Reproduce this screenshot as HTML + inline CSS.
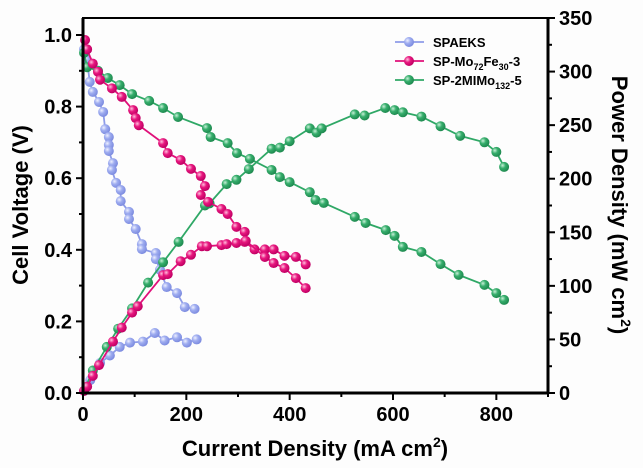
<!DOCTYPE html>
<html><head><meta charset="utf-8">
<style>
html,body{margin:0;padding:0;background:#fff;}
svg{display:block;font-family:"Liberation Sans",Arial,sans-serif;font-weight:bold;}
</style></head>
<body>
<svg id="chart" width="643" height="468" viewBox="0 0 643 468" xmlns="http://www.w3.org/2000/svg">
<defs>
<radialGradient id="gb" cx="35%" cy="35%" r="65%"><stop offset="0" stop-color="#eef0ff"/><stop offset="0.45" stop-color="#9fadf0"/><stop offset="1" stop-color="#7d8ce0"/></radialGradient>
<radialGradient id="gp" cx="35%" cy="35%" r="65%"><stop offset="0" stop-color="#ffc0de"/><stop offset="0.45" stop-color="#e8187f"/><stop offset="1" stop-color="#c00064"/></radialGradient>
<radialGradient id="gg" cx="35%" cy="35%" r="65%"><stop offset="0" stop-color="#c8f0d8"/><stop offset="0.45" stop-color="#36ae6c"/><stop offset="1" stop-color="#1f8a50"/></radialGradient>
</defs>
<rect x="0" y="0" width="643" height="468" fill="#fdfdfd"/>
<g id="marks"></g>
<g id="axes"></g>
</svg>
<script>
// ---- data ----
const blueVI = [2,8,13,19,31,39,43,50,50,50,58,56,64,73,73,89,89,102,114,114,141,141,149,162,182,197,216];
const blueVV = [0.96,0.93,0.869,0.841,0.813,0.785,0.737,0.715,0.693,0.676,0.642,0.623,0.587,0.567,0.536,0.506,0.486,0.458,0.416,0.402,0.391,0.374,0.344,0.296,0.279,0.240,0.235];
const bluePI = [2,14,33,52,71,91,116,139,158,182,201,220];
const bluePP = [2,12,28,35,43,47,48,56,49,52,47,50];
const pinkVI = [4,8,19,29,33,56,75,97,102,108,155,164,189,209,228,236,228,242,268,280,297,313,315,352,369,390,412,431];
const pinkVV = [0.986,0.96,0.92,0.897,0.875,0.851,0.827,0.79,0.768,0.748,0.698,0.67,0.651,0.626,0.606,0.578,0.553,0.534,0.514,0.5,0.464,0.45,0.425,0.38,0.363,0.349,0.321,0.293];
const pinkPI = [2,8,19,31,58,75,95,106,155,164,189,209,230,240,268,278,297,313,332,352,369,390,412,431];
const pinkPP = [2,6,16,26,48,61,75,81,110,111,123,129,137,137,138,139,140,141,134,134,134,128,127,120];
const greenVI = [2,8,29,48,71,95,128,155,184,240,247,280,298,323,365,381,400,439,450,466,526,547,586,603,619,655,692,727,777,800,815];
const greenVV = [0.95,0.91,0.90,0.88,0.86,0.835,0.816,0.796,0.771,0.74,0.715,0.698,0.67,0.654,0.623,0.603,0.589,0.561,0.539,0.531,0.492,0.475,0.455,0.439,0.408,0.394,0.36,0.33,0.302,0.279,0.26];
const greenPI = [2,19,46,68,95,126,155,185,236,245,278,297,321,365,381,400,439,452,462,526,545,585,603,619,655,692,730,777,800,815];
const greenPP = [2,21,43,60,79,103,122,141,175,177,195,199,209,228,229,235,247,243,247,260,259,266,264,262,258,249,240,234,225,211];
const xTicks = [0,200,400,600,800];
const yTicks = [0.0,0.2,0.4,0.6,0.8,1.0];
const y2Ticks = [0,50,100,150,200,250,300,350];

// ---- axes ----
const L=83,R=548,T=18,B=393;
const xS=v=>L+v*(R-L)/900;
const yS=v=>B-v*358;
const y2S=v=>B-v*(B-T)/350;
const NS="http://www.w3.org/2000/svg";
function mk(tag,attrs,parent){const e=document.createElementNS(NS,tag);for(const k in attrs)e.setAttribute(k,attrs[k]);parent.appendChild(e);return e;}
const marks=document.getElementById('marks'), axes=document.getElementById('axes');

function series(xs,ys,ysc,color,grad,name){
  const g=mk('g',{},marks);
  
  
  const pts=xs.map((x,i)=>xS(x).toFixed(1)+','+ysc(ys[i]).toFixed(1)).join(' ');
  const pl=mk('polyline',{points:pts,fill:'none',stroke:color,'stroke-width':1.8},g);
  
  
  xs.forEach((x,i)=>{
    const c=mk('circle',{cx:xS(x),cy:ysc(ys[i]),r:5,fill:'url(#'+grad+')'},g);
    
    
  });
}
series(bluePI,bluePP,y2S,'#8e9ce8','gb','spaeks-power');
series(blueVI,blueVV,yS,'#8e9ce8','gb','spaeks-voltage');
series(greenPI,greenPP,y2S,'#2fa866','gg','sp-2mimo-power');
series(pinkPI,pinkPP,y2S,'#e0107a','gp','sp-mofe-power');
series(greenVI,greenVV,yS,'#2fa866','gg','sp-2mimo-voltage');
series(pinkVI,pinkVV,yS,'#e0107a','gp','sp-mofe-voltage');

// frame
const fr=mk('rect',{x:L,y:T,width:R-L,height:B-T,fill:'none',stroke:'#000','stroke-width':2},axes);


mk('line',{x1:L,y1:T,x2:L,y2:B+1,stroke:'#000','stroke-width':3},axes);
mk('line',{x1:L-1,y1:B,x2:R,y2:B,stroke:'#000','stroke-width':3},axes);
mk('line',{x1:R,y1:T-1,x2:R,y2:B+1,stroke:'#000','stroke-width':3},axes);

function txt(s,x,y,size,anchor,name){const t=mk('text',{x:x,y:y,'font-size':size,'text-anchor':anchor},axes);t.textContent=s;return t;}
// x ticks
for(let v=0;v<=900;v+=100){const major=v%200===0;mk('line',{x1:xS(v),y1:B,x2:xS(v),y2:B+(major?7:4),stroke:'#000','stroke-width':2},axes);}
xTicks.forEach(v=>txt(String(v),xS(v),421,20,'middle','x-tick-label'));
// left ticks
for(let i=0;i<=10;i++){const v=i/10;const major=i%2===0;mk('line',{x1:L,y1:yS(v),x2:L-(major?7:4),y2:yS(v),stroke:'#000','stroke-width':2},axes);}
yTicks.forEach(v=>txt(v.toFixed(1),72,yS(v)+7,20,'end','y-tick-label'));
// right ticks
for(let v=0;v<=350;v+=25){const major=v%50===0;mk('line',{x1:R,y1:y2S(v),x2:R+(major?7:4),y2:y2S(v),stroke:'#000','stroke-width':2},axes);}
y2Ticks.forEach(v=>txt(String(v),559,y2S(v)+7,20,'start','y2-tick-label'));

// axis titles
const xt=txt('',315,456,22,'middle','x-axis-title');
xt.innerHTML='Current Density (mA cm<tspan dy="-9" font-size="14">2</tspan><tspan dy="9">)</tspan>';
const yt=txt('Cell Voltage (V)',0,0,22,'middle','y-axis-title');
yt.setAttribute('transform','translate(28,205) rotate(-90)');
const y2t=txt('',0,0,22,'middle','y2-axis-title');
y2t.setAttribute('transform','translate(612,205) rotate(90)');
y2t.innerHTML='Power Density (mW cm<tspan dy="-9" font-size="14">2</tspan><tspan dy="9">)</tspan>';

// legend
const lg=mk('g',{},axes);


const leg=[['SPAEKS','#8e9ce8','gb',''],['SP-Mo','#e0107a','gp','pink'],['SP-2MIMo','#2fa866','gg','green']];
leg.forEach((l,i)=>{
  const y=42+i*19;
  const e=mk('g',{},lg);
  
  
  mk('line',{x1:395,y1:y,x2:424,y2:y,stroke:l[1],'stroke-width':1.8},e);
  mk('circle',{cx:409,cy:y,r:5,fill:'url(#'+l[2]+')'},e);
  const t=mk('text',{x:433,y:y+5,'font-size':13},e);
  if(i===0)t.textContent='SPAEKS';
  else if(i===1)t.innerHTML='SP-Mo<tspan dy="4" font-size="9">72</tspan><tspan dy="-4">Fe</tspan><tspan dy="4" font-size="9">30</tspan><tspan dy="-4">-3</tspan>';
  else t.innerHTML='SP-2MIMo<tspan dy="4" font-size="9">132</tspan><tspan dy="-4">-5</tspan>';
});
</script>
</body></html>
